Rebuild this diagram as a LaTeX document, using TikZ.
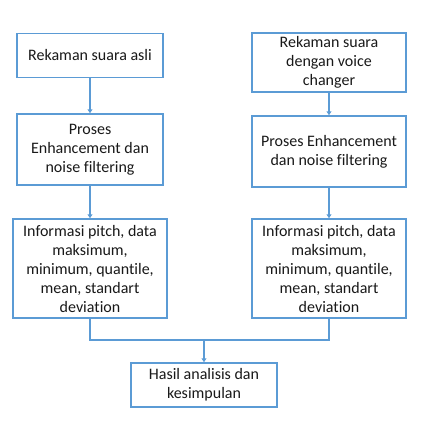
\documentclass[tikz,border=0pt]{standalone}
\usepackage{fontspec}
\setmainfont{Carlito}[Ligatures=NoCommon]
\usetikzlibrary{arrows.meta, positioning}
\definecolor{line}{RGB}{91,155,213}
\definecolor{ink}{RGB}{25,25,25}

\begin{document}
\begin{tikzpicture}[
    x=1pt, y=-1pt,
    box/.style={rectangle, draw=line, line width=1.5pt, fill=white, align=center, inner sep=0pt, text=ink, font=\fontsize{16}{19}\selectfont},
    arr/.style={-{Triangle[length=4pt, width=5pt]}, line width=1.5pt, line},
]
\useasboundingbox (0,0) rectangle (425,423);

% Left branch
\node[box, minimum width=146pt, minimum height=44pt] (asli) at (90,55.5) {Rekaman suara asli};
\node[box, minimum width=146pt, minimum height=71pt] (enhA) at (90,149.5) {Proses\\Enhancement dan\\noise filtering};
\node[box, minimum width=154pt, minimum height=99pt] (infoA) at (90,268.5) {Informasi pitch, data\\maksimum,\\minimum, quantile,\\mean, standart\\deviation};

% Right branch
\node[box, minimum width=154pt, minimum height=59pt] (changer) at (329,62.5) {Rekaman suara\\dengan voice\\changer};
\node[box, minimum width=154pt, minimum height=71pt] (enhB) at (329,151.5) {Proses Enhancement\\dan noise filtering};
\node[box, minimum width=154pt, minimum height=99pt] (infoB) at (329,268.5) {Informasi pitch, data\\maksimum,\\minimum, quantile,\\mean, standart\\deviation};

% Result
\node[box, minimum width=146pt, minimum height=44pt] (hasil) at (204,385) {Hasil analisis dan\\kesimpulan};
\coordinate (join) at (204,340);

% Arrows
\draw[arr] (asli) -- (enhA);
\draw[arr] (enhA) -- (infoA);
\draw[arr] (changer) -- (enhB);
\draw[arr] (enhB) -- (infoB);
\draw[line, line width=1.5pt] (infoA.south) |- (join) -| (infoB.south);
\draw[arr] (join) -- (hasil);

\end{tikzpicture}
\end{document}
